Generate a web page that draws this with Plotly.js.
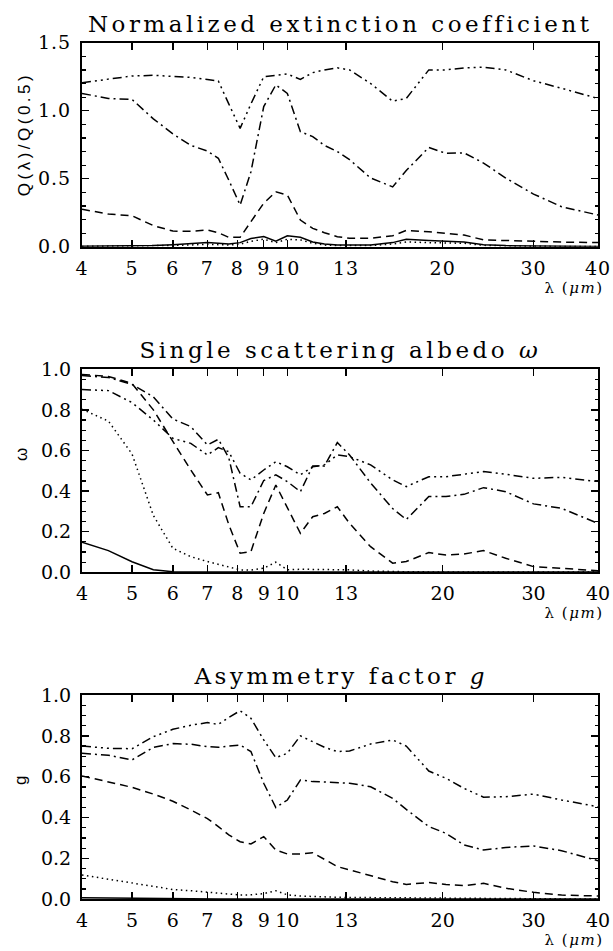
<!DOCTYPE html>
<html>
<head>
<meta charset="utf-8">
<script src="https://cdn.plot.ly/plotly-3.0.1.min.js"></script>
<style>
html,body{margin:0;padding:0;background:#fff;}
#plot{width:613px;height:951px;}
g.annotation[data-index="0"] text,
g.annotation[data-index="1"] text,
g.annotation[data-index="2"] text{letter-spacing:3.5px;}
g.annotation[data-index="3"] text{letter-spacing:3.5px;}
g.annotation[data-index="6"] text,
g.annotation[data-index="7"] text,
g.annotation[data-index="8"] text{letter-spacing:1.5px;}
.xtick text,.ytick text{letter-spacing:1px;}
</style>
</head>
<body>
<div id="plot"></div>
<script>
// wavelength grid (micron)
const lam = [4, 4.5, 5, 5.5, 6, 6.5, 7, 7.35, 7.7, 8.1, 8.5, 9, 9.5, 10, 10.6, 11.2, 11.8, 12.5, 13.2, 14.5, 16, 17, 18.8, 20.3, 22, 24, 26.5, 30, 34, 40];

// Panel 1: normalized extinction Q(lambda)/Q(0.5)
const qSolid   = [0.003,0.004,0.005,0.008,0.015,0.02,0.03,0.025,0.02,0.03, 0.06,0.075,0.04,0.08,0.07,0.035,0.02,0.012,0.01,0.012, 0.03,0.054,0.045,0.04,0.035,0.015,0.008,0.005,0.003,0.002];
const qDot     = [0.002,0.003,0.004,0.006,0.01,0.013,0.018,0.015,0.012,0.018, 0.04,0.055,0.03,0.055,0.05,0.025,0.012,0.008,0.006,0.008, 0.02,0.035,0.03,0.028,0.025,0.01,0.005,0.003,0.002,0.001];
const qDash    = [0.275,0.24,0.228,0.155,0.115,0.113,0.123,0.103,0.069,0.069, 0.184,0.32,0.404,0.38,0.196,0.135,0.103,0.074,0.062,0.062, 0.08,0.12,0.11,0.10,0.086,0.05,0.045,0.037,0.034,0.03];
const qDashDot = [1.127,1.09,1.083,0.94,0.83,0.745,0.703,0.65,0.49,0.306, 0.55,1.03,1.19,1.127,0.845,0.81,0.745,0.70,0.64,0.505, 0.44,0.56,0.73,0.686,0.69,0.615,0.505,0.387,0.294,0.233];
const qDDDot   = [1.206,1.23,1.255,1.26,1.255,1.245,1.23,1.218,1.05,0.87, 1.05,1.25,1.26,1.27,1.23,1.28,1.30,1.315,1.30,1.20, 1.07,1.09,1.30,1.30,1.315,1.32,1.30,1.22,1.165,1.09];

// Panel 2: single scattering albedo omega
const wSolid   = [0.148,0.107,0.052,0.013,0.003,0.001,0.001,0.001,0.001,0.001, 0.001,0.001,0.001,0.001,0.001,0.001,0.001,0.001,0.001,0.001, 0.001,0.001,0.001,0.001,0.001,0.001,0.001,0.001,0.001,0.001];
const wDot     = [0.803,0.745,0.583,0.28,0.118,0.077,0.053,0.04,0.025,0.012, 0.011,0.02,0.05,0.012,0.015,0.015,0.015,0.015,0.012,0.006, 0.003,0.003,0.002,0.002,0.002,0.002,0.001,0.001,0.001,0.001];
const wDash    = [0.975,0.965,0.93,0.80,0.645,0.504,0.381,0.392,0.235,0.094, 0.102,0.29,0.43,0.32,0.192,0.274,0.29,0.323,0.241,0.126, 0.045,0.053,0.097,0.085,0.09,0.107,0.069,0.028,0.02,0.008];
const wDashDot = [0.969,0.96,0.926,0.864,0.755,0.718,0.627,0.655,0.565,0.323, 0.323,0.452,0.48,0.447,0.397,0.524,0.524,0.639,0.578,0.44, 0.314,0.26,0.373,0.373,0.384,0.417,0.397,0.337,0.315,0.241];
const wDDDot   = [0.90,0.895,0.836,0.75,0.66,0.635,0.578,0.614,0.594,0.488, 0.455,0.504,0.545,0.52,0.48,0.52,0.529,0.578,0.57,0.529, 0.455,0.422,0.471,0.471,0.483,0.496,0.483,0.463,0.468,0.447];

// Panel 3: asymmetry factor g
const gSolid   = [0.008,0.006,0.004,0.003,0.002,0.002,0.001,0.001,0.001,0.001, 0.001,0.001,0.001,0.001,0.001,0.001,0.001,0.001,0.001,0.001, 0.001,0.001,0.001,0.001,0.001,0.001,0.001,0.001,0.001,0.001];
const gDot     = [0.119,0.098,0.078,0.06,0.048,0.042,0.036,0.032,0.027,0.021, 0.022,0.028,0.042,0.022,0.016,0.013,0.011,0.01,0.009,0.008, 0.007,0.006,0.005,0.005,0.004,0.004,0.003,0.003,0.002,0.002];
const gDash    = [0.604,0.576,0.548,0.515,0.48,0.437,0.395,0.356,0.315,0.282, 0.271,0.307,0.241,0.222,0.222,0.228,0.196,0.16,0.144,0.114, 0.086,0.073,0.082,0.073,0.067,0.078,0.054,0.034,0.021,0.016];
const gDashDot = [0.715,0.705,0.682,0.744,0.762,0.759,0.747,0.744,0.75,0.755, 0.723,0.568,0.449,0.486,0.584,0.576,0.574,0.571,0.568,0.551, 0.494,0.44,0.356,0.323,0.266,0.241,0.254,0.261,0.238,0.189];
const gDDDot   = [0.75,0.739,0.737,0.796,0.832,0.852,0.865,0.856,0.89,0.923, 0.886,0.78,0.693,0.715,0.80,0.772,0.744,0.723,0.726,0.76, 0.78,0.75,0.628,0.592,0.543,0.50,0.502,0.515,0.486,0.453];

const xTickVals = [4, 5, 6, 7, 8, 9, 10, 13, 20, 30, 40];
const xTickText = ['4', '5', '6', '7', '8', '9', '10', '13', '20', '30', '40'];

const titles = ['Normalized extinction coefficient', 'Single scattering albedo <i>ω</i>', 'Asymmetry factor <i>g</i>'];
const yTitles = ['Q(λ)/Q(0.5)', 'ω', 'g'];
const xTitle = 'λ (<i>μm</i>)';

// ---- layout geometry (pixels) ----
const W = 613, H = 951;
const boxL = 82, boxR = 598;
const boxes = [[42.7, 246.7], [369.3, 572.3], [695, 899.3]];
const px = v => v / W;
const py = v => 1 - v / H;

const styles = [
  {dash: 'solid'},
  {dash: '1.5px,3.5px'},
  {dash: '8px,5px'},
  {dash: '9px,4px,2px,4px'},
  {dash: '9px,4px,2px,4px,2px,4px,2px,4px'}
];

const panels = [
  [qSolid, qDot, qDash, qDashDot, qDDDot],
  [wSolid, wDot, wDash, wDashDot, wDDDot],
  [gSolid, gDot, gDash, gDashDot, gDDDot]
];

const traces = [];
panels.forEach((series, p) => {
  const sfx = p === 0 ? '' : String(p + 1);
  series.forEach((ys, i) => {
    traces.push({
      x: lam, y: ys, type: 'scatter', mode: 'lines',
      xaxis: 'x' + sfx, yaxis: 'y' + sfx,
      line: {color: '#000', width: 1.5, dash: styles[i].dash},
      showlegend: false, hoverinfo: 'skip'
    });
  });
});

const tickFont = {family: 'DejaVu Serif', size: 19, color: '#000'};

function xax(p) {
  return {
    type: 'log', range: [Math.log10(4), Math.log10(40)],
    domain: [px(boxL), px(boxR)], anchor: 'y' + (p === 0 ? '' : p + 1),
    tickmode: 'array', tickvals: xTickVals, ticktext: xTickText,
    ticks: 'inside', ticklen: 7, tickwidth: 1.5, tickcolor: '#000',
    showline: true, linewidth: 2, linecolor: '#000', mirror: 'ticks',
    showgrid: false, zeroline: false, tickfont: tickFont, ticklabelstandoff: 3
  };
}
function yax(p, top, dtick, minor) {
  return {
    range: [0, top], domain: [py(boxes[p][1]), py(boxes[p][0])],
    anchor: 'x' + (p === 0 ? '' : p + 1),
    tickmode: 'linear', tick0: 0, dtick: dtick, tickformat: '.1f',
    ticks: 'inside', ticklen: 7, tickwidth: 1.5, tickcolor: '#000',
    minor: {tickmode: 'linear', tick0: 0, dtick: minor, ticks: 'inside', ticklen: 3.5, tickwidth: 1.2, tickcolor: '#000', showgrid: false},
    showline: true, linewidth: 2, linecolor: '#000', mirror: 'ticks',
    showgrid: false, zeroline: false, tickfont: tickFont, ticklabelstandoff: 5
  };
}

const annotations = [];
titles.forEach((t, p) => {
  annotations.push({
    text: t, xref: 'paper', yref: 'paper', x: px((boxL + boxR) / 2), y: py(boxes[p][0] - 4),
    xanchor: 'center', yanchor: 'bottom', showarrow: false,
    font: {family: 'DejaVu Serif', size: 23, color: '#000'}
  });
});
const yTitlePos = [[24, 134], [21, 455], [20, 781]];
yTitles.forEach((t, p) => {
  annotations.push({
    text: t, xref: 'paper', yref: 'paper', x: px(yTitlePos[p][0]), y: py(yTitlePos[p][1]),
    xanchor: 'center', yanchor: 'middle', textangle: -90, showarrow: false,
    font: {family: 'Liberation Sans', size: 17, color: '#000'}
  });
});
boxes.forEach((b, p) => {
  annotations.push({
    text: xTitle, xref: 'paper', yref: 'paper', x: px(601), y: py(Math.min(b[1] + 52, 951)),
    xanchor: 'right', yanchor: 'bottom', showarrow: false,
    font: {family: 'DejaVu Serif', size: 15, color: '#000'}
  });
});

const layout = {
  width: W, height: H, margin: {l: 0, r: 0, t: 0, b: 0},
  paper_bgcolor: '#fff', plot_bgcolor: '#fff', showlegend: false,
  xaxis: xax(0), xaxis2: xax(1), xaxis3: xax(2),
  yaxis: yax(0, 1.5, 0.5, 0.1), yaxis2: yax(1, 1.0, 0.2, 0.05), yaxis3: yax(2, 1.0, 0.2, 0.05),
  annotations: annotations
};

Plotly.newPlot('plot', traces, layout, {staticPlot: true, displayModeBar: false});
</script>
</body>
</html>
